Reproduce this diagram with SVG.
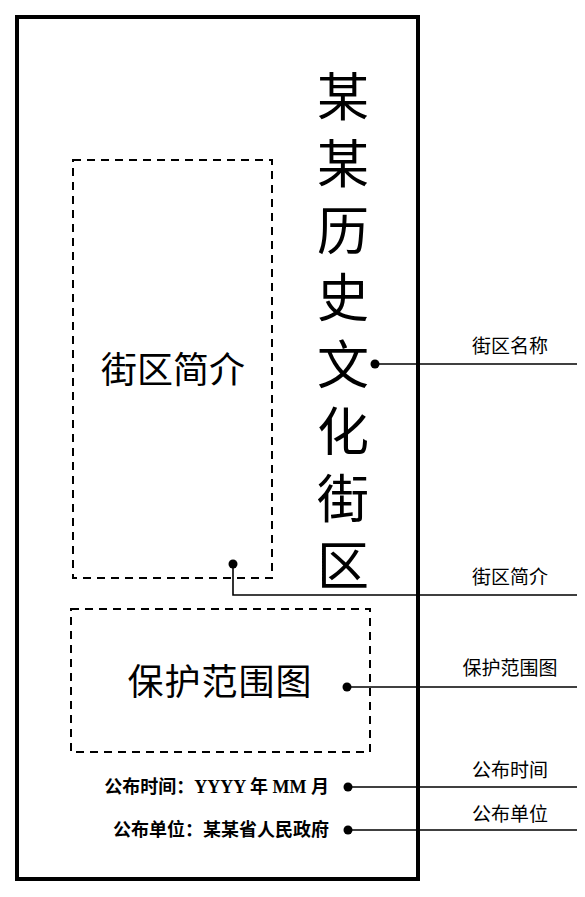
<svg xmlns="http://www.w3.org/2000/svg" width="585" height="897" viewBox="0 0 585 897">
<style>
.frame{fill:none;stroke:#000;stroke-width:4}
.dash{fill:none;stroke:#000;stroke-width:2;stroke-dasharray:8 6}
.ln{fill:none;stroke:#000;stroke-width:1.6}
.dot{fill:#000}
.big{font-family:"Noto Sans CJK SC",sans-serif;font-size:36px;fill:#000;text-anchor:middle}
.title{font-family:"Noto Sans CJK SC",sans-serif;font-size:52px;fill:#000;writing-mode:vertical-rl;letter-spacing:15px}
.lab{font-family:"Noto Sans CJK SC",sans-serif;font-size:19px;fill:#000;text-anchor:middle}
.info{font-family:"Liberation Serif","Noto Sans CJK SC",serif;font-weight:bold;font-size:18px;fill:#000;text-anchor:end}
</style>
<rect width="585" height="897" fill="#fff"/>
<g id="board">
<rect class="frame" x="17" y="17" width="401" height="862"/>
</g>
<g id="title">
<text class="title" x="343" y="70">某某历史文化街区</text>
</g>
<g id="intro">
<rect class="dash" x="73" y="160" width="199" height="418"/>
<text class="big" x="173" y="383">街区简介</text>
</g>
<g id="scope">
<rect class="dash" x="71" y="609" width="299" height="143"/>
<text class="big" x="220" y="695" letter-spacing="1">保护范围图</text>
</g>
<g id="time">
<text class="info" x="329" y="793">公布时间：YYYY 年 MM 月</text>
</g>
<g id="unit">
<text class="info" x="329" y="836">公布单位：某某省人民政府</text>
</g>
<g id="connectors">
<circle class="dot" cx="375" cy="364" r="4.5"/>
<line class="ln" x1="375" y1="364" x2="577" y2="364"/>
<circle class="dot" cx="233" cy="564" r="4.5"/>
<polyline class="ln" points="233,564 233,595 577,595"/>
<circle class="dot" cx="347" cy="687" r="4.5"/>
<line class="ln" x1="347" y1="687" x2="577" y2="687"/>
<circle class="dot" cx="348" cy="787" r="4.5"/>
<line class="ln" x1="348" y1="787" x2="577" y2="787"/>
<circle class="dot" cx="348" cy="830" r="4.5"/>
<line class="ln" x1="348" y1="830" x2="577" y2="830"/>
</g>
<g id="labels">
<text class="lab" x="510" y="353">街区名称</text>
<text class="lab" x="510" y="584">街区简介</text>
<text class="lab" x="510" y="675">保护范围图</text>
<text class="lab" x="510" y="777">公布时间</text>
<text class="lab" x="510" y="821">公布单位</text>
</g>
</svg>
